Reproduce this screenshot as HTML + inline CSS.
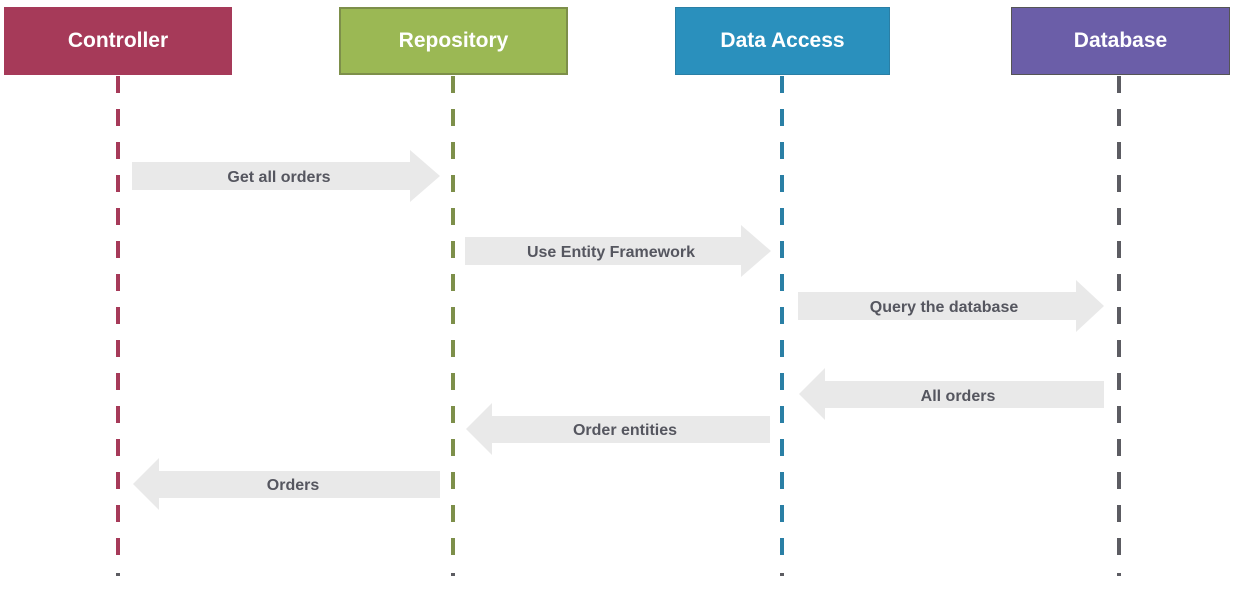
<!DOCTYPE html>
<html><head><style>
body{margin:0;width:1236px;height:589px;background:#fff;overflow:hidden;position:relative;font-family:"Liberation Sans",sans-serif}
.box{position:absolute;top:7px;height:68px;color:#fff;font-weight:bold;font-size:21px;display:flex;align-items:center;justify-content:center;box-sizing:border-box}
svg{position:absolute;left:0;top:0}
</style></head><body>
<svg width="1236" height="589">
<g stroke-width="4" stroke-dasharray="17 16">
<line x1="118" y1="76" x2="118" y2="560" stroke="#a63a59"/>
<line x1="453" y1="76" x2="453" y2="560" stroke="#7d8f4a"/>
<line x1="782" y1="76" x2="782" y2="560" stroke="#2a7fa5"/>
<line x1="1119" y1="76" x2="1119" y2="560" stroke="#5c5c62"/>
</g>
<g fill="#5c5c62"><rect x="116" y="573" width="4" height="3"/><rect x="451" y="573" width="4" height="3"/><rect x="780" y="573" width="4" height="3"/><rect x="1117" y="573" width="4" height="3"/></g>
<g fill="#e9e9e9">
<polygon points="132,162 410,162 410,150 440,176 410,202 410,190 132,190"/>
<polygon points="465,237 741,237 741,225 771,251 741,277 741,265 465,265"/>
<polygon points="798,292 1076,292 1076,280 1104,306 1076,332 1076,320 798,320"/>
<polygon points="1104,381 825,381 825,368 799,394 825,420 825,408 1104,408"/>
<polygon points="770,416 492,416 492,403 466,429 492,455 492,443 770,443"/>
<polygon points="440,471 159,471 159,458 133,484 159,510 159,498 440,498"/>
</g>
<g fill="#55565f" font-family="Liberation Sans,sans-serif" font-weight="bold" font-size="16" text-anchor="middle">
<text x="279" y="182">Get all orders</text>
<text x="611" y="257">Use Entity Framework</text>
<text x="944" y="312">Query the database</text>
<text x="958" y="401">All orders</text>
<text x="625" y="435">Order entities</text>
<text x="293" y="490">Orders</text>
</g>
</svg>
<div class="box" style="left:4px;width:228px;background:#a63a59">Controller</div>
<div class="box" style="left:339px;width:229px;background:#9bb854;border:2px solid #7d8f4a">Repository</div>
<div class="box" style="left:675px;width:215px;background:#2a90bd;border:1px solid #2a7fa5">Data Access</div>
<div class="box" style="left:1011px;width:219px;background:#6b5ea8;border:1px solid #555">Database</div>
</body></html>
